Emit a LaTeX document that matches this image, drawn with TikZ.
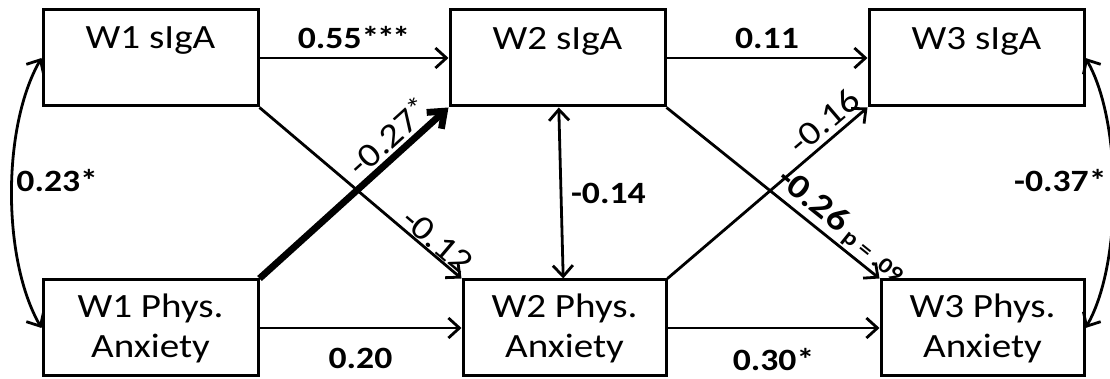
\documentclass[tikz,border=0pt]{standalone}
\usepackage{fontspec}
\setmainfont{Carlito}[FakeStretch=1.15]
\usetikzlibrary{positioning, arrows.meta}

\begin{document}
\begin{tikzpicture}[
  box/.style={draw, rectangle, line width=1.5pt, align=center, inner sep=0pt,
              minimum width=107.5pt, minimum height=48pt,
              font=\fontsize{17}{20}\selectfont},
  lbl/.style={font=\fontsize{15.5}{18}\selectfont\bfseries},
  dlbl/.style={font=\fontsize{17}{18}\selectfont, sloped, above},
  arr/.style={-{Straight Barb[length=5.5pt, width=10pt]}, line width=1.4pt},
  barr/.style={-{Straight Barb[length=7pt, width=11pt]}, line width=3.4pt},
  darr/.style={{Straight Barb[length=5.5pt, width=10pt]}-{Straight Barb[length=5.5pt, width=10pt]}, line width=1.4pt}
]
  \useasboundingbox (0,0) rectangle (555pt,-189.5pt);
  \node[box] (w1s) at (75.25pt,-29pt) {W1 sIgA\\~};
  \node[box, right=94.5pt of w1s]  (w2s) {W2 sIgA\\~};
  \node[box, right=100.5pt of w2s] (w3s) {W3 sIgA\\~};
  \node[box, below=85.5pt of w1s]  (w1p) {W1 Phys.\\Anxiety};
  \node[box, right=101pt of w1p, minimum width=101.5pt] (w2p) {W2 Phys.\\Anxiety};
  \node[box, right=106pt of w2p, minimum width=101.5pt] (w3p) {W3 Phys.\\Anxiety};
  \draw[arr] (w1s) -- node[lbl, above=0.5pt] {0.55*\kern-1.2pt*\kern-1.2pt*} (w2s);
  \draw[arr] (w2s) -- node[lbl, above=0.5pt] {0.11} (w3s);
  \draw[arr] (w1p) -- node[lbl, below=6pt] {0.20} (w2p);
  \draw[arr] (w2p) -- node[lbl, below=6pt] {0.30*} (w3p);
  \draw[arr] (w1s.south east) -- node[dlbl, pos=0.84, above=-3pt] {-0.12} (w2p.north west);
  \draw[barr] (w1p.north east) -- node[dlbl, pos=0.75, above=-2pt] {-0.27\raisebox{3pt}{\fontsize{14}{14}\selectfont*}} (w2s.south west);
  \draw[darr] (w2s) -- node[lbl, right=1pt] {-0.14} (w2p);
  \draw[arr] (w2s.south east) -- node[dlbl, pos=0.77, above=-2.5pt] {\bfseries -0.26\,\raisebox{-1.5pt}{\fontsize{11}{12}\selectfont p = .09}} (w3p.north west);
  \draw[arr] (w2p.north east) -- node[dlbl, pos=0.84, above=-1pt] {-0.16} (w3s.south west);
  \draw[darr] (w1s.west) to[out=240, in=120, looseness=0.75] node[lbl, pos=0.46, anchor=west, inner sep=1.5pt] {0.23*} (w1p.west);
  \draw[darr] (w3s.east) to[out=-60, in=60, looseness=0.7] node[lbl, pos=0.46, anchor=east, inner sep=2.5pt] {-0.37*} (w3p.east);
\end{tikzpicture}
\end{document}
